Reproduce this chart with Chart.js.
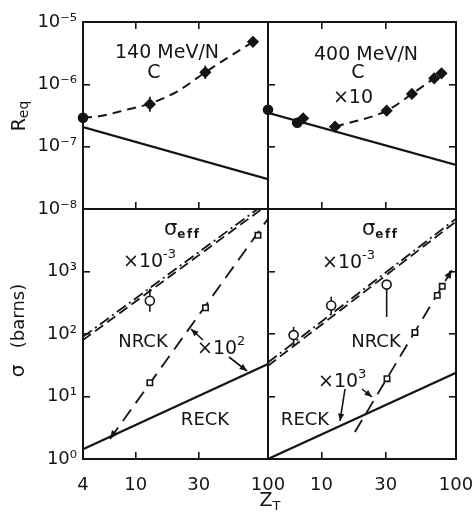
<!DOCTYPE html>
<html><head><meta charset="utf-8">
<script src="https://cdn.jsdelivr.net/npm/chart.js@4.4.0/dist/chart.umd.min.js"></script>
<style>
html,body{margin:0;padding:0;background:#fff;}
#wrap{position:relative;width:475px;height:521px;overflow:hidden;background:#fff;}
canvas{position:absolute;left:0;top:0;}
</style></head><body>
<div id="wrap">
<canvas id="cTL" width="475" height="521"></canvas>
<canvas id="cTR" width="475" height="521"></canvas>
<canvas id="cBL" width="475" height="521"></canvas>
<canvas id="cBR" width="475" height="521"></canvas>
</div>
<script>
// ---------- tick values ----------
const zTicks = [4, 10, 30, 100];
const reqTicks = [1e-8, 1e-7, 1e-6, 1e-5];
const sigTicks = [1, 10, 100, 1000, 10000];

// ---------- 140 MeV/N (top left) ----------
const z140Calc = [4, 100];
const req140Calc = [2.06e-7, 3.0e-8];
const z140Fit = [4, 5.4, 8.5, 12.8, 20.4, 33.6, 54, 77];
const req140Fit = [2.9e-7, 3.1e-7, 3.9e-7, 4.9e-7, 7.6e-7, 1.56e-6, 3.0e-6, 4.8e-6];
const z140Dia = [12.8, 33.6, 77];
const req140Dia = [4.8e-7, 1.56e-6, 4.8e-6];
const req140DiaLo = [3.64e-7, 1.22e-6, 4.0e-6];
const req140DiaHi = [6.3e-7, 2.0e-6, 5.76e-6];
const z140Circ = [4];
const req140Circ = [2.9e-7];

// ---------- 400 MeV/N (top right, x10) ----------
const z400Calc = [4, 100];
const req400Calc = [3.5e-7, 5.1e-8];
const z400Fit = [12.6, 30.5, 47, 68.9, 78];
const req400Fit = [2.09e-7, 3.77e-7, 7.0e-7, 1.25e-6, 1.5e-6];
const z400Dia = [7.3, 12.6, 30.5, 47, 68.9, 78];
const req400Dia = [2.85e-7, 2.09e-7, 3.77e-7, 7.0e-7, 1.25e-6, 1.5e-6];
const req400DiaLo = [2.4e-7, null, 3.1e-7, 6.0e-7, null, null];
const req400DiaHi = [3.4e-7, null, 4.6e-7, 8.2e-7, null, null];
const z400Circ = [4, 6.6];
const req400Circ = [3.9e-7, 2.42e-7];

// ---------- sigma, 140 MeV/N (bottom left) ----------
const zBLReck = [4, 100];
const sBLReck = [1.43, 33];
const zBLEffA = [4, 100];
const sBLEffA = [80, 11800];
const zBLEffB = [4, 100];
const sBLEffB = [90, 13200];
const zBLNrck = [6.4, 100];
const sBLNrck = [2.1, 7000];
const zBLSq = [12.8, 33.7, 84];
const sBLSq = [16.6, 263, 3800];
const zBLCirc = [12.8];
const sBLCirc = [340];
const sBLCircLo = [226];
const sBLCircHi = [532];

// ---------- sigma, 400 MeV/N (bottom right) ----------
const zBRReck = [4, 100];
const sBRReck = [1.0, 24];
const zBREffA = [4, 100];
const sBREffA = [31, 6300];
const zBREffB = [4, 100];
const sBREffB = [35, 7000];
const zBRNrck = [17.7, 93];
const sBRNrck = [2.7, 1050];
const zBRSq = [30.7, 49.5, 72.6, 79];
const sBRSq = [19.3, 106, 415, 580];
const zBRCirc = [6.2, 11.8, 30.5];
const sBRCirc = [96, 286, 617];
const sBRCircLo = [65, 209, 187];
const sBRCircHi = [130, 393, 700];

// ---------- helpers ----------
const INK = '#151515';
const FONT = '"DejaVu Sans", "Liberation Sans", sans-serif';
const SUP = {'-':'\u207B','0':'\u2070','1':'\u00B9','2':'\u00B2','3':'\u00B3','4':'\u2074','5':'\u2075','6':'\u2076','7':'\u2077','8':'\u2078','9':'\u2079'};
function pow10Label(v){ const e = Math.round(Math.log10(v)); return '10' + String(e).split('').map(c=>SUP[c]).join(''); }
function pts(xs, ys){ return xs.map((x,i)=>({x:x, y:ys[i]})); }
function lineDS(xs, ys, opt){ return Object.assign({data:pts(xs,ys), showLine:true, borderColor:INK, borderWidth:2, pointRadius:0, fill:false, tension:0}, opt||{}); }
function markDS(xs, ys, style, filled, r, extra){ return Object.assign({data:pts(xs,ys), showLine:false, pointStyle:style, pointRadius:r, pointBackgroundColor: filled?INK:'#fff', pointBorderColor:INK, pointBorderWidth:1.6, clip:false}, extra||{}); }

function axis(position, min, max, ticks, opts){
  const size = opts.size || 0;
  return {
    type:'logarithmic', position:position, min:min, max:max, display:true,
    afterBuildTicks: s => { s.ticks = ticks.map(v=>({value:v})); },
    afterFit: s => { if (s.isHorizontal()) s.height = size; else s.width = size; s.paddingLeft = s.paddingRight = s.paddingTop = s.paddingBottom = 0; },
    grid: {drawOnChartArea:false, drawTicks: opts.tick, tickLength:-7, color:INK, lineWidth:1.6},
    border: {display:true, color:INK, width:2},
    ticks: {display: !!opts.label, autoSkip:false, maxRotation:0, minRotation:0, padding: opts.pad||0,
            font:{family:FONT, size:18}, color:INK, callback: opts.label || (()=>'')}
  };
}

function rich(ctx, x, y, parts, align){
  ctx.save(); ctx.fillStyle = INK; ctx.textBaseline = 'alphabetic'; ctx.textAlign = 'left';
  const items = parts.map(p => {
    const t = p[0], size = p[1], dy = p[2]||0, bold = p[3]||false, sp = p[4]||0;
    const font = (bold?'bold ':'') + size + 'px ' + FONT;
    ctx.font = font;
    let w = 0;
    if (sp) { for (const ch of t) w += ctx.measureText(ch).width + sp; } else w = ctx.measureText(t).width;
    return {t, font, dy, sp, w};
  });
  const total = items.reduce((a,b)=>a+b.w, 0);
  let cx = align==='center' ? x-total/2 : (align==='right' ? x-total : x);
  for (const it of items){
    ctx.font = it.font;
    if (it.sp){ let xx = cx; for (const ch of it.t){ ctx.fillText(ch, xx, y+it.dy); xx += ctx.measureText(ch).width + it.sp; } }
    else ctx.fillText(it.t, cx, y+it.dy);
    cx += it.w;
  }
  ctx.restore();
}
function richRot(ctx, x, y, parts){ ctx.save(); ctx.translate(x, y); ctx.rotate(-Math.PI/2); rich(ctx, 0, 0, parts, 'center'); ctx.restore(); }
function head(ctx, x2, y2, ang, len){
  ctx.beginPath();
  ctx.moveTo(x2, y2);
  ctx.lineTo(x2 - len*Math.cos(ang-0.4), y2 - len*Math.sin(ang-0.4));
  ctx.lineTo(x2 - len*Math.cos(ang+0.4), y2 - len*Math.sin(ang+0.4));
  ctx.closePath(); ctx.fill();
}
function arrow(ctx, x1, y1, x2, y2){
  ctx.save(); ctx.strokeStyle = INK; ctx.fillStyle = INK; ctx.lineWidth = 1.6;
  ctx.beginPath(); ctx.moveTo(x1, y1); ctx.lineTo(x2, y2); ctx.stroke();
  head(ctx, x2, y2, Math.atan2(y2-y1, x2-x1), 8);
  ctx.restore();
}
function errBars(chart, xs, lo, hi){
  const ctx = chart.ctx, sx = chart.scales.x, sy = chart.scales.y;
  ctx.save(); ctx.strokeStyle = INK; ctx.lineWidth = 1.6;
  xs.forEach((z,i) => {
    if (lo[i]==null || hi[i]==null) return;
    const px = sx.getPixelForValue(z);
    ctx.beginPath(); ctx.moveTo(px, sy.getPixelForValue(lo[i])); ctx.lineTo(px, sy.getPixelForValue(hi[i])); ctx.stroke();
  });
  ctx.restore();
}
function lineHead(chart, xs, ys, atEnd){
  const ctx = chart.ctx, sx = chart.scales.x, sy = chart.scales.y;
  const a = {x:sx.getPixelForValue(xs[0]), y:sy.getPixelForValue(ys[0])};
  const b = {x:sx.getPixelForValue(xs[1]), y:sy.getPixelForValue(ys[1])};
  ctx.save(); ctx.fillStyle = INK;
  if (atEnd) head(ctx, b.x, b.y, Math.atan2(b.y-a.y, b.x-a.x), 9);
  else head(ctx, a.x, a.y, Math.atan2(a.y-b.y, a.x-b.x), 9);
  ctx.restore();
}

const xLab = v => ({4:'4',10:'10',30:'30',100:'100'})[v] || '';
const xLabR = v => ({10:'10',30:'30',100:'100'})[v] || '';
const yLabTop = v => pow10Label(v);
const yLabBot = v => v >= 9999 ? '' : pow10Label(v);

// rect = [left, top, right, bottom] of the plot area; pads = [leftAxis, bottomAxis] sizes
function makeChart(id, rect, pads, datasets, scales, plugin){
  return new Chart(document.getElementById(id), {
    type:'scatter',
    data:{datasets:datasets},
    options:{
      responsive:false, animation:false, events:[],
      layout:{padding:{left:rect[0]-pads[0], top:rect[1], right:475-rect[2], bottom:521-rect[3]-pads[1]}},
      plugins:{legend:{display:false}, tooltip:{enabled:false}},
      scales:scales
    },
    plugins:[plugin]
  });
}

const DASH_FIT = [9, 6];
const DASH_NR = [14, 8];
const DASH_A = [10, 5];
const DASH_B = [11, 4, 2, 4];

// ---------- top left ----------
makeChart('cTL', [83, 22, 268, 209], [83, 0], [
  markDS(z140Dia, req140Dia, 'rectRot', true, 5),
  markDS(z140Circ, req140Circ, 'circle', true, 4.5),
  lineDS(z140Fit, req140Fit, {borderDash:DASH_FIT, borderWidth:2, cubicInterpolationMode:'monotone'}),
  lineDS(z140Calc, req140Calc, {borderWidth:2.2})
], {
  x: axis('bottom', 4, 100, zTicks, {tick:true}),
  xt: axis('top', 4, 100, zTicks, {tick:true}),
  y: axis('left', 1e-8, 1e-5, reqTicks, {tick:true, label:yLabTop, pad:13, size:83}),
  yr: axis('right', 1e-8, 1e-5, reqTicks, {tick:false})
}, {
  id:'tl',
  beforeDatasetsDraw(c){ errBars(c, z140Dia, req140DiaLo, req140DiaHi); },
  afterDraw(c){
    const ctx = c.ctx;
    rich(ctx, 167, 58, [['140 MeV/N', 19]], 'center');
    rich(ctx, 154, 78, [['C', 19]], 'center');
    richRot(ctx, 25, 116, [['R', 19], ['eq', 14, 3]]);
  }
});

// ---------- top right ----------
makeChart('cTR', [268, 22, 456, 209], [0, 0], [
  markDS(z400Dia, req400Dia, 'rectRot', true, 5),
  markDS(z400Circ, req400Circ, 'circle', true, 4.5),
  lineDS(z400Fit, req400Fit, {borderDash:DASH_FIT, borderWidth:2, cubicInterpolationMode:'monotone'}),
  lineDS(z400Calc, req400Calc, {borderWidth:2.2})
], {
  x: axis('bottom', 4, 100, zTicks, {tick:true}),
  xt: axis('top', 4, 100, zTicks, {tick:true}),
  y: axis('left', 1e-8, 1e-5, reqTicks, {tick:true}),
  yr: axis('right', 1e-8, 1e-5, reqTicks, {tick:true})
}, {
  id:'tr',
  beforeDatasetsDraw(c){ errBars(c, z400Dia, req400DiaLo, req400DiaHi); },
  afterDraw(c){
    const ctx = c.ctx;
    rich(ctx, 366, 60, [['400 MeV/N', 19]], 'center');
    rich(ctx, 358, 78, [['C', 19]], 'center');
    rich(ctx, 353, 103, [['\u00D710', 19]], 'center');
  }
});

// ---------- bottom left ----------
makeChart('cBL', [83, 209, 268, 459], [83, 62], [
  markDS(zBLSq, sBLSq, 'rect', false, 3.8),
  markDS(zBLCirc, sBLCirc, 'circle', false, 4.5),
  lineDS(zBLEffA, sBLEffA, {borderDash:DASH_A, borderWidth:1.8}),
  lineDS(zBLEffB, sBLEffB, {borderDash:DASH_B, borderWidth:1.8}),
  lineDS(zBLNrck, sBLNrck, {borderDash:DASH_NR, borderWidth:1.8}),
  lineDS(zBLReck, sBLReck, {borderWidth:2.2})
], {
  x: axis('bottom', 4, 100, zTicks, {tick:true, label:xLab, pad:23, size:62}),
  xt: axis('top', 4, 100, zTicks, {tick:false}),
  y: axis('left', 1, 1e4, sigTicks, {tick:true, label:yLabBot, pad:13, size:83}),
  yr: axis('right', 1, 1e4, sigTicks, {tick:false})
}, {
  id:'bl',
  beforeDatasetsDraw(c){ errBars(c, zBLCirc, sBLCircLo, sBLCircHi); },
  afterDraw(c){
    const ctx = c.ctx;
    lineHead(c, zBLNrck, sBLNrck, false);
    rich(ctx, 164, 235, [['\u03C3', 21], ['eff', 12, 3, true, 1.5]], 'left');
    rich(ctx, 123, 267, [['\u00D710', 19], ['-3', 13, -9]], 'left');
    rich(ctx, 143, 347, [['NRCK', 18]], 'center');
    rich(ctx, 205, 425, [['RECK', 18]], 'center');
    rich(ctx, 197, 354, [['\u00D710', 19], ['2', 13, -9]], 'left');
    arrow(ctx, 203, 340, 191, 329);
    arrow(ctx, 229, 357, 247, 371);
    richRot(ctx, 24, 371, [['\u03C3', 20]]);
    richRot(ctx, 24, 316, [['(barns)', 18]]);
    rich(ctx, 270, 506, [['Z', 19], ['T', 13, 4]], 'center');
  }
});

// ---------- bottom right ----------
makeChart('cBR', [268, 209, 456, 459], [0, 62], [
  markDS(zBRSq, sBRSq, 'rect', false, 3.8),
  markDS(zBRCirc, sBRCirc, 'circle', false, 4.5),
  lineDS(zBREffA, sBREffA, {borderDash:DASH_A, borderWidth:1.8}),
  lineDS(zBREffB, sBREffB, {borderDash:DASH_B, borderWidth:1.8}),
  lineDS(zBRNrck, sBRNrck, {borderDash:DASH_NR, borderWidth:1.8}),
  lineDS(zBRReck, sBRReck, {borderWidth:2.2})
], {
  x: axis('bottom', 4, 100, zTicks, {tick:true, label:xLabR, pad:23, size:62}),
  xt: axis('top', 4, 100, zTicks, {tick:false}),
  y: axis('left', 1, 1e4, sigTicks, {tick:true}),
  yr: axis('right', 1, 1e4, sigTicks, {tick:true})
}, {
  id:'br',
  beforeDatasetsDraw(c){ errBars(c, zBRCirc, sBRCircLo, sBRCircHi); },
  afterDraw(c){
    const ctx = c.ctx;
    lineHead(c, zBRNrck, sBRNrck, true);
    rich(ctx, 362, 235, [['\u03C3', 21], ['eff', 12, 3, true, 1.5]], 'left');
    rich(ctx, 322, 268, [['\u00D710', 19], ['-3', 13, -9]], 'left');
    rich(ctx, 376, 347, [['NRCK', 18]], 'center');
    rich(ctx, 305, 425, [['RECK', 18]], 'center');
    rich(ctx, 318, 387, [['\u00D710', 19], ['3', 13, -9]], 'left');
    arrow(ctx, 345, 389, 340, 421);
    arrow(ctx, 362, 389, 372, 397);
  }
});
</script>
</body></html>
